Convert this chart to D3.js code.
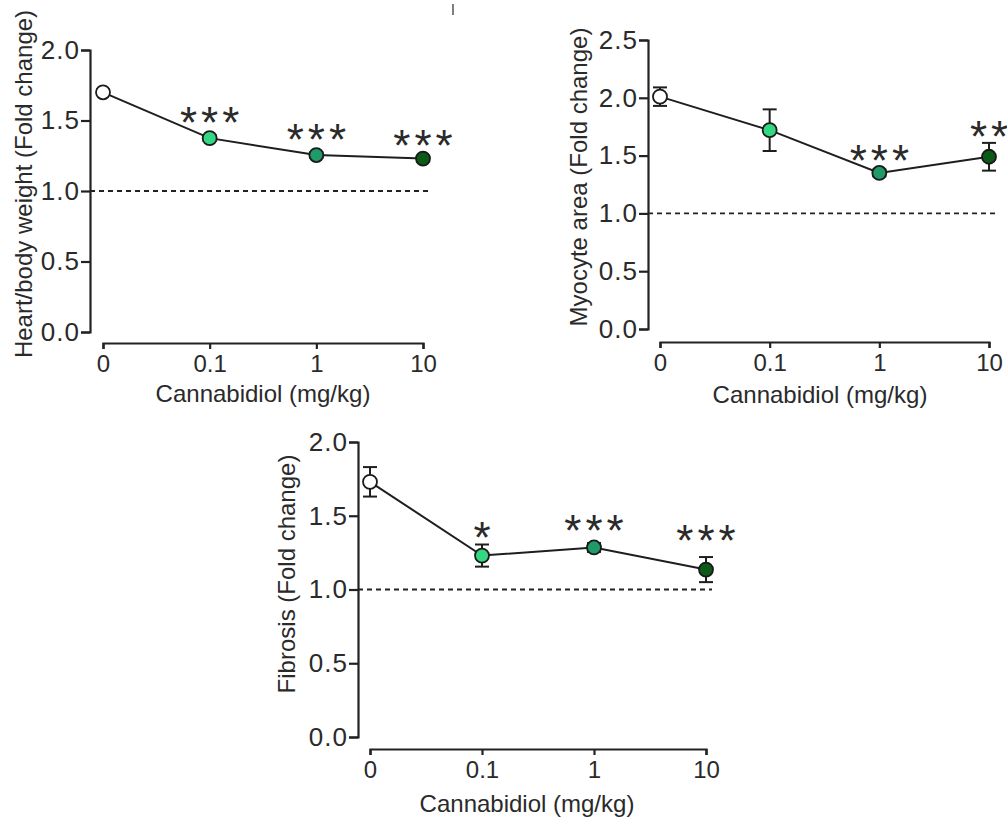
<!DOCTYPE html>
<html>
<head>
<meta charset="utf-8">
<script src="https://cdn.jsdelivr.net/npm/d3@7"></script>
<style>
  html, body { margin: 0; padding: 0; background: #fff; }
  svg { display: block; }
  text { font-family: "Liberation Sans", Arial, sans-serif; fill: #2a2a2a; }
</style>
</head>
<body>
<svg id="chart" width="1007" height="819"></svg>
<script>
// ---- data ----
const doses = ["0", "0.1", "1", "10"];
const doseColors = ["#ffffff", "#35d882", "#1f9a68", "#0c5a17"];
const yTicksA = [0, 0.5, 1.0, 1.5, 2.0];
const yTicksB = [0, 0.5, 1.0, 1.5, 2.0, 2.5];

const heartMean = [1.70, 1.375, 1.255, 1.23];
const heartErr  = [0.02, 0.02, 0.02, 0.02];
const heartSig  = ["", "***", "***", "***"];

const myocyteMean = [2.01, 1.72, 1.35, 1.49];
const myocyteErr  = [0.08, 0.18, 0.03, 0.12];
const myocyteSig  = ["", "", "***", "**"];

const fibrosisMean = [1.73, 1.23, 1.285, 1.135];
const fibrosisErr  = [0.10, 0.075, 0.03, 0.085];
const fibrosisSig  = ["", "*", "***", "***"];

const xTitle = "Cannabidiol (mg/kg)";
const reference = 1.0;

// ---- drawing ----
const svg = d3.select("#chart");
const STAR_SIZE = 44;

function panel(cfg) {
  const g = svg.append("g");
  const x = d3.scalePoint().domain(doses).range(cfg.xRange);
  const y = d3.scaleLinear().domain([0, cfg.yMax]).range(cfg.yRange);

  // y axis
  const ya = g.append("g")
    .attr("transform", `translate(${cfg.yAxisX},0)`)
    .call(d3.axisLeft(y).tickValues(cfg.yTicks).tickFormat(d3.format(".1f"))
      .tickSizeOuter(0).tickSize(9).tickPadding(2));
  // x axis
  const xa = g.append("g")
    .attr("transform", `translate(0,${cfg.xAxisY})`)
    .call(d3.axisBottom(x).tickSizeOuter(0).tickSize(6).tickPadding(6));
  [ya, xa].forEach(a => {
    a.select(".domain").attr("stroke", "#222").attr("stroke-width", 2.2);
    a.selectAll(".tick line").attr("stroke", "#222").attr("stroke-width", 2.2);
    a.selectAll(".tick text").attr("font-size", 24).attr("fill", "#2a2a2a")
      .style("font-family", '"Liberation Sans", Arial, sans-serif');
  });
  ya.selectAll(".tick text").attr("font-size", 26).attr("letter-spacing", 1).attr("dx", 1);

  // reference line at 1.0
  g.append("line")
    .attr("x1", cfg.yAxisX).attr("x2", cfg.dashEnd)
    .attr("y1", y(reference)).attr("y2", y(reference))
    .attr("stroke", "#222").attr("stroke-width", 1.8)
    .attr("stroke-dasharray", "5,4");

  const data = doses.map((d, i) => ({ d, i, m: cfg.mean[i], e: cfg.err[i], s: cfg.sig[i], c: doseColors[i] }));

  // connecting line
  g.append("path").datum(data)
    .attr("fill", "none").attr("stroke", "#1e1e1e").attr("stroke-width", 2)
    .attr("d", d3.line().x(p => x(p.d)).y(p => y(p.m)));

  // error bars
  const eb = g.selectAll(".eb").data(data).enter().append("g")
    .attr("stroke", "#1e1e1e").attr("stroke-width", 2);
  eb.append("line").attr("x1", p => x(p.d)).attr("x2", p => x(p.d))
    .attr("y1", p => y(p.m - p.e)).attr("y2", p => y(p.m + p.e));
  eb.append("line").attr("x1", p => x(p.d) - 7).attr("x2", p => x(p.d) + 7)
    .attr("y1", p => y(p.m + p.e)).attr("y2", p => y(p.m + p.e));
  eb.append("line").attr("x1", p => x(p.d) - 7).attr("x2", p => x(p.d) + 7)
    .attr("y1", p => y(p.m - p.e)).attr("y2", p => y(p.m - p.e));

  // points
  g.selectAll(".pt").data(data).enter().append("circle")
    .attr("cx", p => x(p.d)).attr("cy", p => y(p.m)).attr("r", 7)
    .attr("fill", p => p.c).attr("stroke", "#1a1a1a").attr("stroke-width", 1.8);

  // significance stars (glyph centre sits ~0.58em above baseline)
  g.selectAll(".sig").data(data.filter(p => p.s)).enter().append("text")
    .attr("x", p => x(p.d) + 2)
    .attr("y", p => y(p.m) - cfg.starDy[p.i] + 0.58 * STAR_SIZE)
    .attr("text-anchor", "middle")
    .attr("font-size", STAR_SIZE)
    .attr("letter-spacing", 4)
    .attr("fill", "#262626")
    .text(p => p.s);

  // axis titles
  g.append("text")
    .attr("x", cfg.xTitleX).attr("y", cfg.xTitleY)
    .attr("text-anchor", "middle").attr("font-size", 24)
    .text(xTitle);
  g.append("text")
    .attr("transform", `translate(${cfg.yTitleX},${cfg.yTitleY}) rotate(-90)`)
    .attr("text-anchor", "middle").attr("font-size", 24)
    .text(cfg.yTitle);
}

panel({
  mean: heartMean, err: heartErr, sig: heartSig,
  yTitle: "Heart/body weight (Fold change)",
  yMax: 2.0, yTicks: yTicksA,
  xRange: [103, 423], yRange: [332, 50], yAxisX: 90, xAxisY: 343, dashEnd: 430,
  xTitleX: 263, xTitleY: 402, yTitleX: 32, yTitleY: 184,
  starDy: [0, 26, 26, 23]
});
panel({
  mean: myocyteMean, err: myocyteErr, sig: myocyteSig,
  yTitle: "Myocyte area (Fold change)",
  yMax: 2.5, yTicks: yTicksB,
  xRange: [660, 989], yRange: [329, 40], yAxisX: 648, xAxisY: 342, dashEnd: 995,
  xTitleX: 820, xTitleY: 403, yTitleX: 587, yTitleY: 177,
  starDy: [0, 0, 22, 30]
});
panel({
  mean: fibrosisMean, err: fibrosisErr, sig: fibrosisSig,
  yTitle: "Fibrosis (Fold change)",
  yMax: 2.0, yTicks: yTicksA,
  xRange: [370, 706], yRange: [737, 442], yAxisX: 358, xAxisY: 749, dashEnd: 712,
  xTitleX: 527, xTitleY: 812, yTitleX: 295, yTitleY: 574,
  starDy: [0, 28, 27, 39]
});

// small stray mark at top of the original figure
svg.append("line").attr("x1", 453).attr("x2", 453).attr("y1", 4).attr("y2", 15)
  .attr("stroke", "#555").attr("stroke-width", 1.5);
</script>
</body>
</html>
